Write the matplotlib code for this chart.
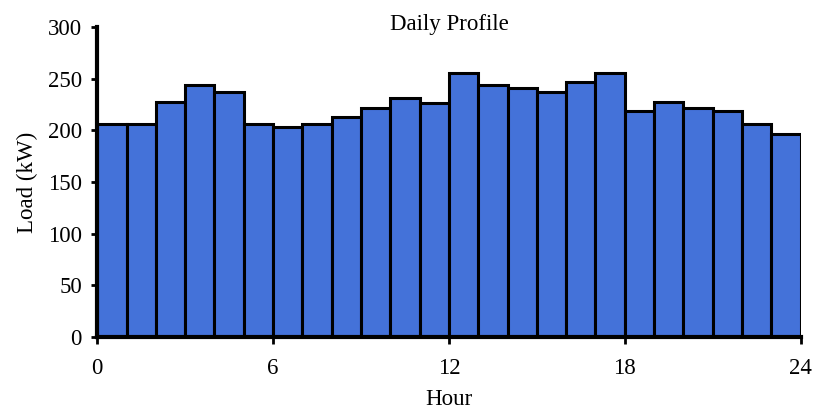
import numpy as np
import matplotlib
matplotlib.use('Agg')
import matplotlib.pyplot as plt

plt.rcParams['font.family'] = ['Liberation Serif', 'DejaVu Serif']
plt.rcParams['font.size'] = 16.5

# hourly load
hours = np.arange(24)
load = [206, 206, 228, 244, 237, 206, 203, 206, 213, 222, 231, 227,
        256, 244, 241, 237, 247, 256, 219, 228, 222, 219, 206, 197]
xticks = [0, 6, 12, 18, 24]
yticks = [0, 50, 100, 150, 200, 250, 300]

fig = plt.figure(figsize=(8.17, 4.11), dpi=100)
ax = fig.add_axes([0.119, 0.18, 0.861, 0.754])

ax.bar(hours, load, width=1.0, align='edge', color='#4472d9',
       edgecolor='black', linewidth=2.2)

ax.set_xlim(0, 24)
ax.set_ylim(0, 300)
ax.set_xticks(xticks)
ax.set_yticks(yticks)

for s in ('top', 'right'):
    ax.spines[s].set_visible(False)
for s in ('left', 'bottom'):
    ax.spines[s].set_linewidth(3)

ax.tick_params(axis='y', direction='out', length=4, width=2, pad=7)
ax.tick_params(axis='x', direction='out', length=5, width=2, pad=10)
ax.text(0.5, 1.01, 'Daily Profile', transform=ax.transAxes,
        ha='center', va='center')
ax.set_xlabel('Hour', labelpad=7)
ax.set_ylabel('Load (kW)', labelpad=7)

fig.savefig('out.png', dpi=100)
